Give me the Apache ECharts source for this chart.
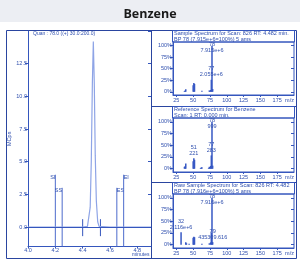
<!DOCTYPE html>
<html>
<head>
<meta charset="utf-8">
<script src="https://cdn.jsdelivr.net/npm/echarts@6/dist/echarts.min.js"></script>
<style>
html, body { margin: 0; padding: 0; background: #fff; }
#c1 { width: 300px; height: 263px; }
</style>
</head>
<body>
<div id="c1"></div>
<script>
// chromatogram (minutes / MCps)
var traceTime = [4.0, 4.1, 4.2, 4.3, 4.4, 4.435, 4.445, 4.455, 4.463, 4.471, 4.478, 4.485, 4.492, 4.5, 4.51, 4.52, 4.6, 4.7, 4.8, 4.9];
var traceMcps = [0, 0, 0, 0, 0, 0.05, 0.2, 1.5, 5, 11, 14.2, 11, 5.5, 2, 0.4, 0.05, 0, 0, 0, 0];
var markerNames = ["SI", "SS", "ES", "EI"];
var markerTimes = [4.2, 4.25, 4.65, 4.7];
var markerTops = [4.0, 3.0, 3.0, 4.0];
var integTimes = [4.4, 4.53];
var timeTicks = [4.0, 4.2, 4.4, 4.6, 4.8];
var mcpsTicks = [0, 2.5, 5, 7.5, 10, 12.5];

// spectra (m/z / % of base peak)
var mzTicks = [25, 50, 75, 100, 125, 150, 175];
var pctTicks = [0, 25, 50, 75, 100];
var sampleMz = [37, 38, 39, 50, 51, 52, 63, 74, 75, 76, 77, 78, 79];
var sampleAbund = [1.5, 2.5, 5.5, 14, 19, 17, 2, 3, 1.5, 4, 26, 100, 6];
var sampleLabels = { 77: "77\n2.055e+6", 78: "78\n7.915e+6" };
var refMz = [37, 38, 39, 50, 51, 52, 61, 62, 63, 73, 74, 75, 76, 77, 78, 79];
var refAbund = [4, 5, 11, 16, 22.1, 19, 1.5, 2.5, 3, 1.5, 4, 2, 6, 28.3, 99.9, 6.5];
var refLabels = { 51: "51\n221", 77: "77\n283", 78: "78\n999" };
var rawMz = [32, 39, 40, 44, 50, 51, 52, 63, 74, 76, 77, 78, 79];
var rawAbund = [26.7, 5, 3, 2, 15, 17, 16, 2, 3, 5, 25, 100, 5.5];
var rawLabels = { 32: "32\n2.116e+6", 78: "78\n7.916e+6", 79: "79\n435309.616" };

var blue = "#3556bd",
  txt = "#2f4fae",
  frame = "#2a45a0",
  ff = "Liberation Sans";

var myChart = echarts.init(document.getElementById("c1"));

function specData(mz, ab, labels) {
  var res = [];
  for (var i = 0; i < mz.length; i++) {
    var item = { value: [mz[i], ab[i]] };
    if (labels[mz[i]]) {
      var isBase = ab[i] > 90;
      item.label = {
        show: true,
        position: isBase ? "insideTop" : "top",
        distance: isBase ? 0 : 2,
        offset: isBase ? [0, -4] : [0, 0],
        formatter: labels[mz[i]],
        fontSize: 5.5,
        lineHeight: 6,
        color: txt,
        fontFamily: ff,
      };
    }
    res.push(item);
  }
  return res;
}

var panelTops = [42, 118, 194];
var panelHeights = [53, 54, 54];
var headers = [
  ["Sample Spectrum for Scan: 826 RT: 4.482 min.", "BP 78 (7.915e+6=100%) 5 ams"],
  ["Reference Spectrum for Benzene", "Scan: 1 RT: 0.000 min."],
  ["Raw Sample Spectrum for Scan: 826 RT: 4.482", "BP 78 (7.916e+6=100%) 5 ams"],
];

var graphics = [
  { type: "rect", shape: { x: 0, y: 0, width: 300, height: 22 }, style: { fill: "#eceef3" }, z: -10 },
  { type: "rect", shape: { x: 6.5, y: 30.5, width: 290, height: 228 }, style: { fill: null, stroke: frame, lineWidth: 1 } },
  { type: "line", shape: { x1: 151.5, y1: 30.5, x2: 151.5, y2: 258.5 }, style: { stroke: frame, lineWidth: 1 } },
  { type: "line", shape: { x1: 151.5, y1: 106.5, x2: 296.5, y2: 106.5 }, style: { stroke: frame, lineWidth: 1 } },
  { type: "line", shape: { x1: 151.5, y1: 182.5, x2: 296.5, y2: 182.5 }, style: { stroke: frame, lineWidth: 1 } },
  { type: "text", x: 33, y: 33.5, style: { text: "Quan : 78.0 ((+) 30.0:200.0)", fill: txt, fontSize: 5, fontFamily: ff, verticalAlign: "middle" } },
  { type: "text", x: 132, y: 254.5, style: { text: "minutes", fill: txt, fontSize: 5, fontFamily: ff, verticalAlign: "middle" } },
];
for (var p = 0; p < 3; p++) {
  var hTop = panelTops[p] - 11.5;
  graphics.push({ type: "rect", shape: { x: 172.5, y: hTop, width: 122, height: 11.5 }, style: { fill: null, stroke: blue, lineWidth: 1 } });
  graphics.push({ type: "text", x: 174, y: hTop + 3, style: { text: headers[p][0], fill: txt, fontSize: 5.5, fontFamily: ff, verticalAlign: "middle" } });
  graphics.push({ type: "text", x: 174, y: hTop + 8.6, style: { text: headers[p][1], fill: txt, fontSize: 5.5, fontFamily: ff, verticalAlign: "middle" } });
  graphics.push({ type: "text", x: 289.5, y: panelTops[p] + panelHeights[p] + 5, style: { text: "m/z", fill: txt, fontSize: 5.5, fontFamily: ff, align: "center", verticalAlign: "middle" } });
}

var grids = [{ left: 28, top: 31, width: 123, height: 215.6 }];
var xAxes = [
  {
    gridIndex: 0, type: "value", min: 4.0, max: 4.9,
    axisLine: { onZero: false, lineStyle: { color: blue } },
    axisTick: { customValues: timeTicks, length: 2, lineStyle: { color: blue } },
    axisLabel: { customValues: timeTicks, fontSize: 5.5, margin: 1, color: txt, fontFamily: ff, formatter: function (v) { return v.toFixed(1); } },
    splitLine: { show: false },
  },
];
var yAxes = [
  {
    gridIndex: 0, type: "value", min: -1.5, max: 15, name: "MCps", nameLocation: "middle", nameGap: 12,
    nameTextStyle: { fontSize: 5.5, color: txt, fontFamily: ff },
    axisLine: { show: true, onZero: false, lineStyle: { color: blue } },
    axisTick: { show: true, customValues: mcpsTicks, length: 3, lineStyle: { color: blue } },
    axisLabel: { customValues: mcpsTicks, fontSize: 5.5, margin: 1, color: txt, fontFamily: ff, formatter: function (v) { return v.toFixed(1); } },
    splitLine: { show: false },
  },
  {
    gridIndex: 0, type: "value", position: "right", min: -1.5, max: 15,
    axisLine: { show: false, onZero: false },
    axisTick: { show: true, inside: true, customValues: mcpsTicks.concat([15]), length: 3, lineStyle: { color: blue } },
    axisLabel: { show: false },
    splitLine: { show: false },
  },
];
for (var g = 0; g < 3; g++) {
  grids.push({ left: 173, top: panelTops[g], width: 121, height: panelHeights[g], show: true, borderColor: blue, borderWidth: 1 });
  xAxes.push({
    gridIndex: g + 1, type: "value", min: 20, max: 200,
    axisLine: { onZero: false, lineStyle: { color: blue } },
    axisTick: { customValues: mzTicks, length: 2, lineStyle: { color: blue } },
    axisLabel: { customValues: mzTicks, fontSize: 5.5, margin: 2, color: txt, fontFamily: ff },
    splitLine: { show: false },
  });
  yAxes.push({
    gridIndex: g + 1, type: "value", min: -7, max: 108,
    axisLine: { show: true, onZero: false, lineStyle: { color: blue } },
    axisTick: { show: true, customValues: pctTicks, length: 3, lineStyle: { color: blue } },
    axisLabel: { customValues: pctTicks, fontSize: 5.5, margin: 1, color: txt, fontFamily: ff, formatter: "{value}%" },
    splitLine: { show: false },
  });
  yAxes.push({
    gridIndex: g + 1, type: "value", position: "right", min: -7, max: 108,
    axisLine: { show: false, onZero: false },
    axisTick: { show: true, inside: true, customValues: pctTicks, length: 3, lineStyle: { color: blue } },
    axisLabel: { show: false },
    splitLine: { show: false },
  });
}

var trace = traceTime.map(function (t, i) { return [t, traceMcps[i]]; });
var markers = markerTimes.map(function (t, i) { return [t, markerTops[i]]; });
var integ = integTimes.map(function (t) { return [t]; });

function barSeries(idx, data) {
  return {
    type: "bar", xAxisIndex: idx, yAxisIndex: idx * 2,
    barWidth: 1.5, itemStyle: { color: "#3758c4" },
    data: data,
  };
}

var option = {
  animation: false,
  textStyle: { fontFamily: ff },
  title: {
    text: "Benzene", left: "center", top: 3,
    textStyle: { fontFamily: "Open Sans", fontWeight: "bold", fontSize: 12.5, color: "#1a1a1a" },
  },
  graphic: graphics,
  grid: grids,
  xAxis: xAxes,
  yAxis: yAxes,
  series: [
    {
      type: "line", xAxisIndex: 0, yAxisIndex: 0, data: trace, symbol: "none",
      lineStyle: { color: "#8ea4e6", width: 1.2 },
      markLine: {
        silent: true, symbol: "none", label: { show: false },
        lineStyle: { color: blue, width: 1, type: "solid" },
        data: [{ yAxis: 0 }],
      },
    },
    {
      type: "custom", xAxisIndex: 0, yAxisIndex: 0, data: markers,
      encode: { x: 0, y: 1 },
      renderItem: function (params, api) {
        var t = api.value(0), h = api.value(1);
        var top = api.coord([t, h]), bot = api.coord([t, -1.5]);
        var onLeft = params.dataIndex < 2;
        return {
          type: "group",
          children: [
            { type: "line", shape: { x1: top[0], y1: top[1], x2: bot[0], y2: bot[1] }, style: { stroke: "#4d6bcc", lineWidth: 1 } },
            { type: "text", x: top[0], y: top[1], style: { text: markerNames[params.dataIndex], fill: txt, fontSize: 5.5, fontFamily: ff, align: onLeft ? "right" : "left", verticalAlign: "top" } },
          ],
        };
      },
    },
    {
      type: "custom", xAxisIndex: 0, yAxisIndex: 0, data: integ,
      encode: { x: 0 },
      renderItem: function (params, api) {
        var t = api.value(0);
        var a = api.coord([t, 0.6]), b = api.coord([t, -0.7]);
        return { type: "line", shape: { x1: a[0], y1: a[1], x2: b[0], y2: b[1] }, style: { stroke: blue, lineWidth: 1 } };
      },
    },
    barSeries(1, specData(sampleMz, sampleAbund, sampleLabels)),
    barSeries(2, specData(refMz, refAbund, refLabels)),
    barSeries(3, specData(rawMz, rawAbund, rawLabels)),
  ],
};
myChart.setOption(option);
</script>
</body>
</html>
